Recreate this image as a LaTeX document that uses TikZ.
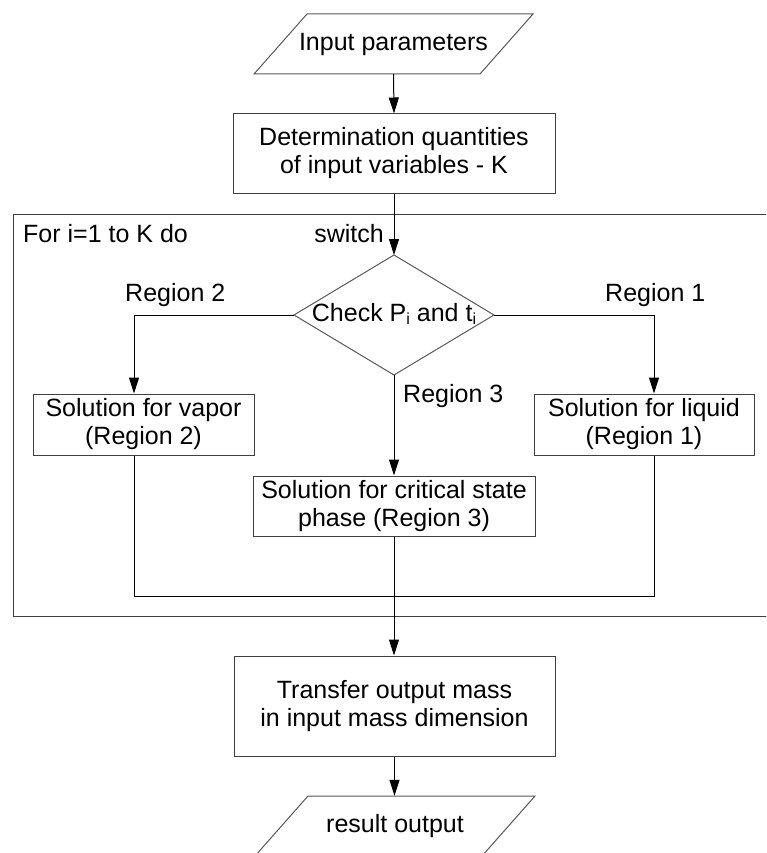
\documentclass[tikz,border=0pt]{standalone}
\usepackage{fontspec}
\setmainfont{Liberation Sans}
\usetikzlibrary{arrows.meta}
\begin{document}
\begin{tikzpicture}[x=1pt,y=-1pt,
  txt/.style={font=\fontsize{25}{28}\selectfont, align=center, inner sep=0pt},
  procbox/.style={txt, draw=black!75, line width=1pt},
  shapeline/.style={draw=black!65, line width=1pt},
  conn/.style={draw=black, line width=1pt},
  arr/.style={conn, -{Triangle[length=16pt,width=10pt]}},
  lbl/.style={font=\fontsize{25}{28}\selectfont, inner sep=0pt}]
\useasboundingbox (0,0) rectangle (766,853);
\clip (0,0) rectangle (766,853);
\fill[white] (0,0) rectangle (766,853);

% input parallelogram
\draw[shapeline] (307,14) -- (533,14) -- (480,74) -- (254,74) -- cycle;
\node[txt, minimum height=60pt, minimum width=180pt] (in) at (393.5,44) {Input parameters};

% determination box
\node[procbox, minimum width=322pt, minimum height=79pt] (det) at (394,153.5)
  {Determination quantities\\of input variables - K};

% loop frame
\draw[shapeline, draw=black!75] (13,214) rectangle (790,616);
\node[lbl, anchor=base west] (forlbl) at (23,242) {For i=1 to K do};
\node[lbl, anchor=base east] (swlbl) at (384,242) {switch};

% diamond
\coordinate (dT) at (394,255);
\coordinate (dL) at (294,315);
\coordinate (dR) at (494,315);
\coordinate (dB) at (394,375);
\draw[shapeline] (dT) -- (dR) -- (dB) -- (dL) -- cycle;
\node[txt] (chk) at (394,314) {Check P\raisebox{-3pt}{\fontsize{16}{16}\selectfont i} and t\raisebox{-3pt}{\fontsize{16}{16}\selectfont i}};

% branch labels
\node[lbl, anchor=base west] (r2lbl) at (125,301) {Region 2};
\node[lbl, anchor=base west] (r1lbl) at (605,301) {Region 1};
\node[lbl, anchor=base west] (r3lbl) at (403,402) {Region 3};

% solution boxes
\node[procbox, minimum width=221pt, minimum height=61pt] (vap) at (143.5,424.5)
  {Solution for vapor\\(Region 2)};
\node[procbox, minimum width=220pt, minimum height=61pt] (liq) at (644,424.5)
  {Solution for liquid\\(Region 1)};
\node[procbox, minimum width=282pt, minimum height=60pt] (crit) at (394,506)
  {Solution for critical state\\phase (Region 3)};

% transfer box
\node[procbox, minimum width=321pt, minimum height=100pt] (tr) at (394.5,706)
  {Transfer output mass\\in input mass dimension};

% output parallelogram
\draw[shapeline] (308,796) -- (535,796) -- (482,856) -- (255,856) -- cycle;
\node[txt, minimum height=60pt, minimum width=180pt] (out) at (395,826) {result output};

% helper coordinates
\coordinate (vx) at (134,0);
\coordinate (lx) at (654,0);
\coordinate (jn) at (394,596);

% connectors
\draw[arr] (in.south) -- (det.north);
\draw[arr] (det.south) -- (dT);
\draw[arr] (dL) -| (vx |- vap.north);
\draw[arr] (dR) -| (lx |- liq.north);
\draw[arr] (dB) -- (crit.north);
\draw[conn] (vx |- vap.south) -- (vx |- jn) -- (lx |- jn) -- (lx |- liq.south);
\draw[arr] (crit.south) -- (crit.south |- tr.north);
\draw[arr] (tr.south) -- (tr.south |- out.north);
\end{tikzpicture}
\end{document}
